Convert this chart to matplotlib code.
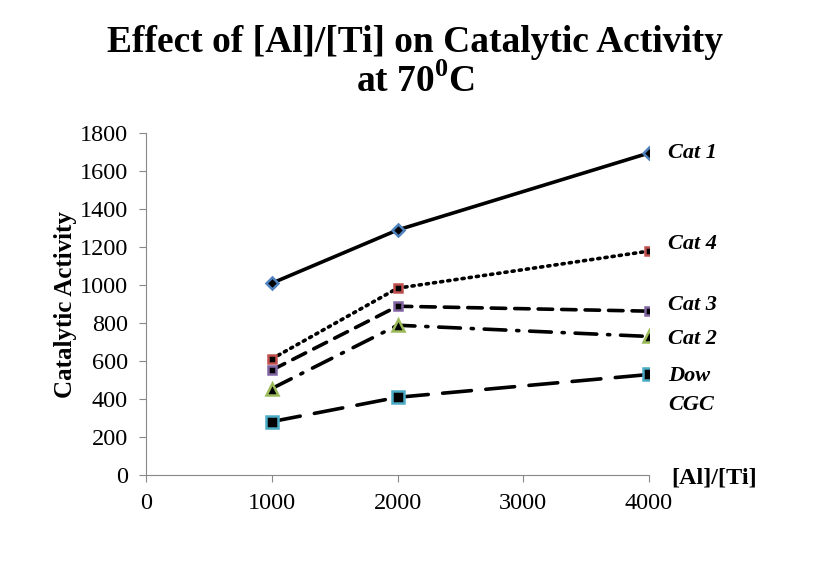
import matplotlib.pyplot as plt

plt.rcParams['font.family'] = ['Liberation Serif', 'DejaVu Serif']
plt.rcParams['mathtext.fontset'] = 'custom'
plt.rcParams['mathtext.rm'] = 'Liberation Serif'
plt.rcParams['mathtext.bf'] = 'Liberation Serif:bold'

ratio = [1000, 2000, 4000]
cat1 = [1010, 1290, 1695]
cat4 = [612, 984, 1179]
cat3 = [553, 889, 863]
cat2 = [456, 789, 730]
dow = [282, 410, 530]

series = [
    (cat1, '-', 'D', '#4F81BD', 6),
    (cat4, (0, (0.6, 1.4)), 's', '#C0504D', 6),
    (cat3, (0, (4, 2.5)), 's', '#8064A2', 6),
    (cat2, (0, (6, 3, 0.6, 3)), '^', '#9BBB59', 8),
    (dow, (0, (8, 4)), 's', '#4BACC6', 8),
]
names = ['Cat 1', 'Cat 4', 'Cat 3', 'Cat 2', 'Dow', 'CGC']
label_y = [1695, 1215, 895, 718, 520, 372]

fig = plt.figure(figsize=(8.3, 5.86), dpi=100)
ax = fig.add_axes([0.176, 0.189, 0.606, 0.584])

for vals, ls, mk, col, ms in series:
    ax.plot(ratio, vals, color='black', lw=2.6, linestyle=ls, marker=mk,
            markersize=ms, markerfacecolor='black', markeredgecolor=col,
            markeredgewidth=1.8, dash_capstyle='round', solid_capstyle='round')
for name, ly in zip(names, label_y):
    ax.text(4150, ly, name, fontsize=16, fontweight='bold', style='italic',
            ha='left', va='center')

ax.set_xlim(0, 4000)
ax.set_ylim(0, 1800)
ax.set_xticks([0, 1000, 2000, 3000, 4000])
ax.set_yticks(range(0, 1801, 200))
ax.tick_params(labelsize=17.5, color='#888888', direction='out', length=5)
for s in ['top', 'right']:
    ax.spines[s].set_visible(False)
for s in ['left', 'bottom']:
    ax.spines[s].set_color('#888888')
ax.tick_params(axis='x', pad=8)
ax.tick_params(axis='y', pad=8)
ax.set_ylabel('Catalytic Activity', fontsize=18, fontweight='bold', labelpad=2)
fig.text(0.860, 0.184, '[Al]/[Ti]', fontsize=17.5, fontweight='bold', ha='center', va='center')
fig.text(0.5, 0.928, 'Effect of [Al]/[Ti] on Catalytic Activity', fontsize=27,
         fontweight='bold', ha='center', va='center')
fig.text(0.5, 0.860, 'at 70$^{\\mathbf{0}}$C', fontsize=27,
         fontweight='bold', ha='center', va='center')

fig.savefig('out.png', dpi=100)
